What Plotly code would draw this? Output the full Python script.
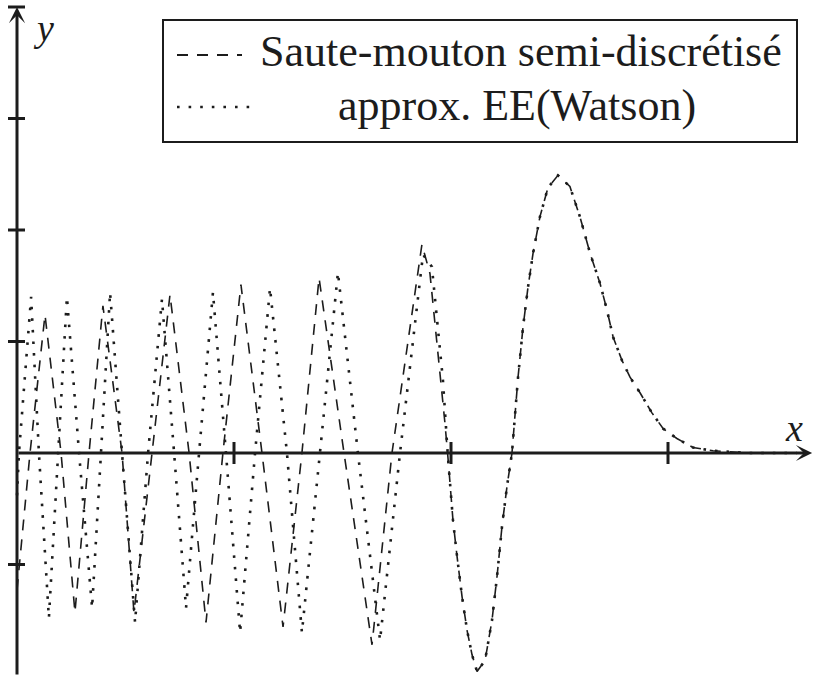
import plotly.graph_objects as go

# Leap-frog (semi-discretised) solution: oscillating part on the left
saute_x_head = [0.000, 0.060, 0.129, 0.203, 0.267, 0.332, 0.396, 0.484, 0.539, 0.622,
                0.705, 0.793, 0.871, 0.949, 1.032, 1.129, 1.226, 1.313, 1.392, 1.507,
                1.636, 1.728, 1.866, 1.903, 1.940, 1.972]
saute_y_head = [-1.23, 0, 1.24, 0, -1.43, 0, 1.32, 0, -1.43, 0,
                1.42, 0, -1.52, 0, 1.51, 0, -1.56, 0, 1.57, 0,
                -1.72, 0, 1.87, 1.61, 0.92, 0.27]

# Watson approximation: oscillating part on the left
watson_x_head = [0.000, 0.009, 0.065, 0.101, 0.147, 0.189, 0.230, 0.286, 0.346, 0.387,
                 0.429, 0.484, 0.544, 0.604, 0.668, 0.724, 0.779, 0.839, 0.903, 0.963,
                 1.028, 1.097, 1.166, 1.244, 1.313, 1.396, 1.479, 1.571, 1.673, 1.765,
                 1.871, 1.912, 1.926, 1.940, 1.963]
watson_y_head = [-0.38, 0, 1.40, 0, -1.48, 0, 1.40, 0, -1.39, 0,
                 1.44, 0, -1.52, 0, 1.38, 0, -1.39, 0, 1.44, 0,
                 -1.61, 0, 1.48, 0, -1.61, 0, 1.62, 0, -1.68, 0,
                 1.78, 1.67, 1.40, 1.10, 0.65]

# Common part of both curves (last trough, main peak, decay)
tail_x = [1.986, 2.009, 2.028, 2.051, 2.074, 2.097, 2.120, 2.157, 2.189, 2.212,
          2.235, 2.258, 2.281, 2.295, 2.309, 2.332, 2.355, 2.378, 2.410, 2.447,
          2.493, 2.548, 2.594, 2.641, 2.687, 2.719, 2.747, 2.788, 2.825, 2.871,
          2.926, 2.977, 3.041, 3.115, 3.207, 3.364, 3.594]
tail_y = [-0.04, -0.60, -0.93, -1.29, -1.59, -1.81, -1.96, -1.86, -1.50, -1.11,
          -0.66, -0.30, 0.00, 0.36, 0.68, 1.13, 1.49, 1.79, 2.12, 2.38,
          2.49, 2.39, 2.12, 1.79, 1.52, 1.28, 1.04, 0.83, 0.68, 0.54,
          0.36, 0.22, 0.13, 0.05, 0.02, 0.00, 0.00]

x_ticks = [1, 2, 3]
y_ticks = [-1, 1, 2, 3, 4]

series_names = ["Saute-mouton semi-discrétisé", "approx. EE(Watson)"]

INK = "#1c1c1c"
SERIF = "Liberation Serif, Times New Roman, serif"
DASHED = "11px,9px"
DOTTED = "2.6px,9px"

fig = go.Figure()
fig.add_trace(go.Scatter(x=saute_x_head + tail_x, y=saute_y_head + tail_y,
                         mode="lines", name=series_names[0],
                         line=dict(color=INK, width=1.6, dash=DASHED)))
fig.add_trace(go.Scatter(x=watson_x_head + tail_x, y=watson_y_head + tail_y,
                         mode="lines", name=series_names[1],
                         line=dict(color=INK, width=2.6, dash=DOTTED)))

shapes = []
# tick marks crossing the axes
for t in y_ticks:
    shapes.append(dict(type="line", xref="x", yref="y", xsizemode="pixel", xanchor=0,
                       x0=-9, x1=8, y0=t, y1=t, line=dict(color=INK, width=3)))
for t in x_ticks:
    shapes.append(dict(type="line", xref="x", yref="y", ysizemode="pixel", yanchor=0,
                       y0=-11, y1=11, x0=t, x1=t, line=dict(color=INK, width=3)))

# legend frame and samples
shapes.append(dict(type="rect", xref="paper", yref="paper",
                   x0=163 / 813, x1=797 / 813, y0=1 - 142 / 680, y1=1 - 20 / 680,
                   line=dict(color=INK, width=2), fillcolor="white", layer="above"))
shapes.append(dict(type="line", xref="paper", yref="paper",
                   x0=177 / 813, x1=242 / 813, y0=1 - 55 / 680, y1=1 - 55 / 680,
                   line=dict(color=INK, width=1.8, dash=DASHED)))
shapes.append(dict(type="line", xref="paper", yref="paper",
                   x0=177 / 813, x1=251 / 813, y0=1 - 107 / 680, y1=1 - 107 / 680,
                   line=dict(color=INK, width=2.6, dash=DOTTED)))


def label(px, py, text, size):
    return dict(x=px / 813, y=1 - py / 680, xref="paper", yref="paper", text=text,
                xanchor="center", yanchor="middle", showarrow=False,
                font=dict(family=SERIF, size=size, color=INK))


annotations = [
    # axes with arrow heads
    dict(x=0, y=4.0, ax=0, ay=-2.0, xref="x", yref="y", axref="x", ayref="y",
         text="", showarrow=True, arrowhead=3, arrowsize=0.9, arrowwidth=3,
         arrowcolor=INK),
    dict(x=3.664, y=0, ax=0, ay=0, xref="x", yref="y", axref="x", ayref="y",
         text="", showarrow=True, arrowhead=3, arrowsize=0.9, arrowwidth=3,
         arrowcolor=INK),
    # axis names
    label(43, 28, "<i>y</i>", 38),
    label(794, 428, "<i>x</i>", 38),
    # legend labels
    label(521, 52, series_names[0], 44),
    label(517, 105, series_names[1], 44),
]

fig.update_layout(
    width=813, height=680,
    margin=dict(l=0, r=0, t=0, b=0),
    paper_bgcolor="white", plot_bgcolor="white",
    showlegend=False,
    xaxis=dict(range=[-17 / 217, 796 / 217], visible=False, fixedrange=True),
    yaxis=dict(range=[-227 / 111.5, 453 / 111.5], visible=False, fixedrange=True),
    shapes=shapes,
    annotations=annotations,
)

fig.write_html("out.html")
